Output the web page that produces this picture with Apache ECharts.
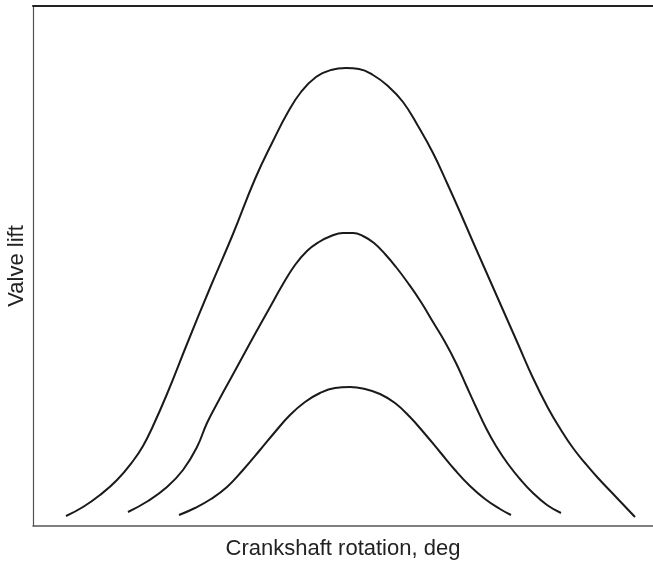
<!DOCTYPE html>
<html>
<head>
<meta charset="utf-8">
<script src="https://cdn.jsdelivr.net/npm/echarts@6/dist/echarts.min.js"></script>
<style>
html,body{margin:0;padding:0;background:#fff;}
#chart{width:653px;height:563px;}
</style>
</head>
<body>
<div id="chart"></div>
<script>
// Crank angle (arbitrary units) and valve lift (arbitrary units)
const outerX = [33,50,67,84,100,110,120,134,154,177,200,222,240,255,268,283,298,313,326,340,355,370,385,400,414,427,440,455,470,485,500,515,528,540,552,565,583,602];
const outerY = [10,19,31,46,65,80,100,132,182,238,292,347,385,414,434,449,456,458,457,451,440,424,400,373,343,314,284,250,216,182,148,118,96,78,63,48,29,9];
const middleX = [95,115,134,150,164,174,186,198,210,222,236,250,262,274,286,298,310,320,330,341,352,363,375,388,400,412,423,433,443,453,463,475,487,500,514,528];
const middleY = [14,25,39,56,79,103,126,148,170,192,217,242,261,275,284,290,293,293,290,283,272,259,243,224,204,184,163,141,119,98,80,62,47,33,21,13];
const innerX = [146,162,178,194,210,227,242,257,272,287,302,317,332,347,362,377,392,407,422,437,452,467,478];
const innerY = [11,18,27,39,56,76,94,111,124,133,138,139,137,132,123,109,92,74,56,40,27,17,11];
const xName = 'Crankshaft rotation, deg';
const yName = 'Valve lift';
const xRange = [0, 620];
const yRange = [0, 520];

function pairs(xs, ys){ return xs.map((x,i)=>[x, ys[i]]); }

const chart = echarts.init(document.getElementById('chart'), null, {renderer:'canvas'});
const lineStyle = {color:'#1a1a1a', width:2};
function curve(data){
  return {type:'line', data:data, smooth:0.45, showSymbol:false, symbol:'none', lineStyle:lineStyle, animation:false, silent:true};
}
chart.setOption({
  animation:false,
  grid:{left:33, right:0, top:6, bottom:37, containLabel:false, outerBoundsMode:'none'},
  xAxis:[{
    type:'value', min:xRange[0], max:xRange[1], position:'bottom',
    name:xName, nameLocation:'middle', nameGap:12,
    nameTextStyle:{fontFamily:'Liberation Sans, Arial, sans-serif', fontSize:22, color:'#222', verticalAlign:'top'},
    axisLine:{show:true, onZero:false, lineStyle:{color:'#555', width:1.5}},
    axisTick:{show:false}, axisLabel:{show:false}, splitLine:{show:false}
  },{
    type:'value', min:xRange[0], max:xRange[1], position:'top',
    axisLine:{show:true, onZero:false, lineStyle:{color:'#222', width:2}},
    axisTick:{show:false}, axisLabel:{show:false}, splitLine:{show:false}
  }],
  yAxis:{
    type:'value', min:yRange[0], max:yRange[1],
    name:yName, nameLocation:'middle', nameGap:5, nameRotate:90,
    nameTextStyle:{fontFamily:'Liberation Sans, Arial, sans-serif', fontSize:22, color:'#222'},
    axisLine:{show:true, onZero:false, lineStyle:{color:'#555', width:1.2}},
    axisTick:{show:false}, axisLabel:{show:false}, splitLine:{show:false}
  },
  series:[curve(pairs(outerX, outerY)), curve(pairs(middleX, middleY)), curve(pairs(innerX, innerY))]
});
</script>
</body>
</html>
